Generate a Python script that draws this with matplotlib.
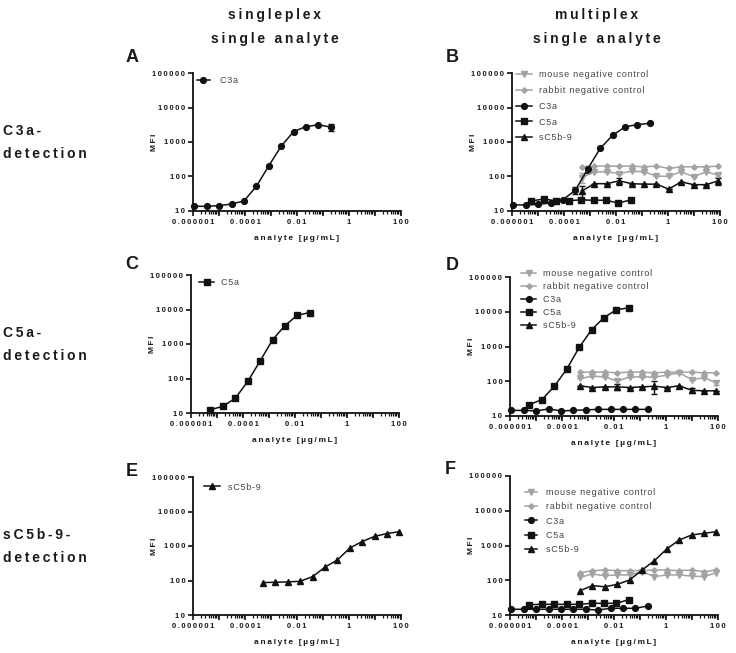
import matplotlib
matplotlib.use("Agg")
import matplotlib.pyplot as plt
from matplotlib.ticker import FixedLocator, FixedFormatter, NullFormatter

plt.rcParams['font.family'] = ['Liberation Sans', 'DejaVu Sans']

# ---------------- data ----------------
c3a_conc = [1.13e-6, 3.39e-6, 1.02e-5, 3.05e-5, 9.14e-5, 2.74e-4, 8.23e-4,
            2.47e-3, 7.41e-3, 2.22e-2, 6.67e-2, 0.2]
c5a_conc = [5.6e-6, 1.69e-5, 5.1e-5, 1.52e-4, 4.6e-4, 1.37e-3, 4.1e-3, 1.23e-2, 0.037]
sc5b9_conc = [4.9e-4, 1.47e-3, 4.4e-3, 1.33e-2, 0.04, 0.12, 0.36, 1.07, 3.2, 9.7, 29, 87]

A_C3a = [13.7, 13.7, 14.3, 16, 19.5, 52, 204, 760, 2000, 2800, 3150, 2700]
A_C3a_err = [0, 0, 0, 0, 0, 0, 0, 0, 0, 0, 0, 650]

B_mouse = [93, 137, 137, 122, 143, 137, 102, 102, 137, 98, 137, 109]
B_mouse_err = [30, 0, 0, 0, 0, 0, 0, 0, 0, 0, 0, 15]
B_rabbit = [183, 200, 200, 200, 200, 191, 200, 171, 191, 191, 191, 200]
B_C3a = [15, 15, 15.6, 17, 21.4, 40, 167, 655, 1560, 2740, 3200, 3480]
B_C3a_err = [0, 0, 0, 0, 0, 8, 40, 0, 0, 0, 0, 0]
B_C5a = [19.5, 22.4, 19.5, 20, 21, 20.5, 20.5, 17, 21]
B_sC5b9 = [38, 62, 62, 75, 62, 60, 60, 43, 70, 58, 58, 75]
B_sC5b9_err = [15, 0, 0, 18, 0, 0, 0, 0, 0, 0, 0, 18]

C_C5a = [12.5, 15.6, 27, 82, 326, 1320, 3430, 6820, 8150]

D_mouse = [120, 140, 134, 100, 134, 134, 131, 150, 175, 112, 126, 90]
D_mouse_err = [0, 0, 0, 15, 0, 0, 0, 0, 0, 0, 0, 10]
D_rabbit = [183, 183, 183, 175, 183, 183, 175, 183, 183, 183, 175, 175]
D_C3a = [14.5, 14.5, 14, 16, 14, 14.5, 15, 15.5, 15.5, 15.5, 15.5, 15.5]
D_C5a = [21.3, 29.7, 72, 223, 946, 3000, 6820, 11360, 12980]
D_sC5b9 = [74, 66, 69, 69, 66, 69, 72, 66, 74, 55, 53, 53]
D_sC5b9_err = [0, 0, 0, 12, 0, 0, 28, 0, 0, 8, 0, 0]

E_sC5b9 = [87, 89, 91, 95, 130, 245, 395, 870, 1350, 1900, 2300, 2600]

F_mouse = [121, 151, 135, 142, 142, 176, 127, 142, 142, 132, 127, 165]
F_rabbit = [165, 189, 197, 189, 189, 189, 197, 197, 189, 197, 177, 197]
F_C3a = [14.6, 14.6, 14.6, 14.6, 14.6, 14.6, 14.6, 13.9, 15.6, 15.6, 15.6, 18.2]
F_C5a = [19.8, 20.3, 20.3, 20.3, 20.3, 21.7, 21.7, 21.7, 27.6]
F_sC5b9 = [50, 70, 65, 76, 102, 197, 366, 793, 1440, 2005, 2240, 2500]

xtick_vals = [1e-6, 1e-5, 1e-4, 1e-3, 1e-2, 1e-1, 1, 10, 100]
xtick_labels = ['0.000001', '', '0.0001', '', '0.01', '', '1', '', '100']
ytick_vals = [10, 100, 1000, 10000, 100000]
ytick_labels = ['10', '100', '1000', '10000', '100000']

col_titles = [('singleplex', 'single analyte'), ('multiplex', 'single analyte')]
row_titles = [('C3a-', 'detection'), ('C5a-', 'detection'), ('sC5b-9-', 'detection')]

# ---------------- style ----------------
W, H = 736, 653
BLACK = '#111111'
GRAY = '#a3a3a3'
TXT = '#1a1a1a'
LEG = '#444444'


def sp(s, ch='\u2009'):
    return ch.join(list(s))


fig = plt.figure(figsize=(W / 100, H / 100), dpi=100)


def make_ax(left, top, right, bottom):
    return fig.add_axes([left / W, 1 - bottom / H, (right - left) / W, (bottom - top) / H])


def style_ax(ax):
    ax.set_xscale('log')
    ax.set_yscale('log')
    ax.set_xlim(1e-6, 100)
    ax.set_ylim(10, 100000)
    for s in ['top', 'right']:
        ax.spines[s].set_visible(False)
    for s in ['left', 'bottom']:
        ax.spines[s].set_linewidth(1.3)
        ax.spines[s].set_color(BLACK)
    ax.xaxis.set_major_locator(FixedLocator(xtick_vals))
    ax.xaxis.set_major_formatter(FixedFormatter([sp(t, '\u2009') for t in xtick_labels]))
    minors = [m * v for v in xtick_vals[:-1] for m in range(2, 10)]
    ax.xaxis.set_minor_locator(FixedLocator(minors))
    ax.xaxis.set_minor_formatter(NullFormatter())
    ax.yaxis.set_major_locator(FixedLocator(ytick_vals))
    ax.yaxis.set_major_formatter(FixedFormatter([sp(t, '\u2009') for t in ytick_labels]))
    ax.yaxis.set_minor_locator(FixedLocator([]))
    ax.tick_params(axis='both', which='major', length=3.5, width=1.2, color=BLACK,
                   labelsize=5.5, labelcolor=TXT, pad=2)
    ax.tick_params(axis='x', which='minor', length=2.2, width=0.9, color=BLACK)
    for lab in ax.get_xticklabels() + ax.get_yticklabels():
        lab.set_fontweight('bold')
    ax.set_ylabel(sp('MFI'), fontsize=6, fontweight='bold', color=TXT)
    ax.set_xlabel(sp('analyte [µg/mL]'), fontsize=6, fontweight='bold', color=TXT)
    bb = ax.get_position()
    wpx, hpx = bb.width * W, bb.height * H
    ax.yaxis.set_label_coords(-35 / wpx, 0.5)
    ax.xaxis.set_label_coords(0.5, -24 / hpx)
    ax.patch.set_alpha(0)


def series(ax, x, y, marker, color, ms, label, yerr=None):
    if yerr is not None:
        ax.errorbar(x, y, yerr=yerr, fmt='none', ecolor=color, elinewidth=1.0,
                    capsize=2, capthick=1.0, clip_on=False, zorder=3)
    ln, = ax.plot(x, y, color=color, lw=1.1, marker=marker, ms=ms, mfc=color,
                  mec=color, clip_on=False, zorder=4, label=label)
    return ln


def add_legend(ax, x_frac, y_frac, hl, htp, lsp):
    leg = ax.legend(loc='upper left', bbox_to_anchor=(x_frac, y_frac), frameon=False,
                    fontsize=6.5, handlelength=hl, handletextpad=htp, labelspacing=lsp,
                    borderpad=0, borderaxespad=0)
    for t in leg.get_texts():
        t.set_color(LEG)
    return leg


def multiplex(ax, mouse, rabbit, c3a, c5a, sc5b9, mouse_err=None, c3a_err=None,
              sc5b9_err=None):
    series(ax, sc5b9_conc, mouse, 'v', GRAY, 4.0, sp('mouse negative control', '\u200a'), mouse_err)
    series(ax, sc5b9_conc, rabbit, 'D', GRAY, 2.8, sp('rabbit negative control', '\u200a'))
    series(ax, c3a_conc, c3a, 'o', BLACK, 4.2, sp('C3a', '\u200a'), c3a_err)
    series(ax, c5a_conc, c5a, 's', BLACK, 4.0, sp('C5a', '\u200a'))
    series(ax, sc5b9_conc, sc5b9, '^', BLACK, 4.3, sp('sC5b-9', '\u200a'), sc5b9_err)


# ---------------- panels ----------------
axA = make_ax(193, 73, 401, 211)
style_ax(axA)
series(axA, c3a_conc, A_C3a, 'o', BLACK, 4.2, sp('C3a', '\u200a'), A_C3a_err)
add_legend(axA, 0.02, 0.975, 1.4, 1.1, 0.7)

axB = make_ax(512, 73, 720, 211)
style_ax(axB)
multiplex(axB, B_mouse, B_rabbit, B_C3a, B_C5a, B_sC5b9, B_mouse_err, B_C3a_err, B_sC5b9_err)
add_legend(axB, 0.02, 1.02, 1.75, 0.8, 0.75)

axC = make_ax(191, 275, 399, 413)
style_ax(axC)
series(axC, c5a_conc, C_C5a, 's', BLACK, 4.0, sp('C5a', '\u200a'))
add_legend(axC, 0.04, 0.975, 1.6, 0.8, 0.7)

axD = make_ax(510, 277, 718, 416)
style_ax(axD)
multiplex(axD, D_mouse, D_rabbit, D_C3a, D_C5a, D_sC5b9, D_mouse_err, None, D_sC5b9_err)
add_legend(axD, 0.055, 1.06, 1.6, 0.8, 0.45)

axE = make_ax(193, 477, 401, 615)
style_ax(axE)
series(axE, sc5b9_conc, E_sC5b9, '^', BLACK, 4.3, sp('sC5b-9', '\u200a'))
add_legend(axE, 0.055, 0.96, 1.7, 0.9, 0.7)

axF = make_ax(510, 476, 718, 615)
style_ax(axF)
multiplex(axF, F_mouse, F_rabbit, F_C3a, F_C5a, F_sC5b9)
add_legend(axF, 0.07, 0.915, 1.4, 1.0, 0.6)

# panel letters
for letter, (x, y) in zip('ABCDEF', [(132, 57), (452, 57), (132, 265), (452, 266),
                                      (132, 471), (450, 469)]):
    fig.text(x / W, 1 - y / H, letter, fontsize=13, fontweight='bold', color=TXT,
             ha='center', va='center')

# column titles
for (t1, t2), xc in zip(col_titles, [275, 597]):
    fig.text(xc / W, 1 - 15 / H, sp(t1), fontsize=10, fontweight='bold', color=TXT,
             ha='center', va='center')
    fig.text(xc / W, 1 - 39 / H, sp(t2), fontsize=10, fontweight='bold', color=TXT,
             ha='center', va='center')

# row titles
for (t1, t2), yc in zip(row_titles, [142, 344, 546]):
    fig.text(3 / W, 1 - (yc - 11) / H, sp(t1), fontsize=10, fontweight='bold', color=TXT,
             ha='left', va='center')
    fig.text(3 / W, 1 - (yc + 12) / H, sp(t2), fontsize=10, fontweight='bold', color=TXT,
             ha='left', va='center')

fig.savefig('out.png', dpi=100)
